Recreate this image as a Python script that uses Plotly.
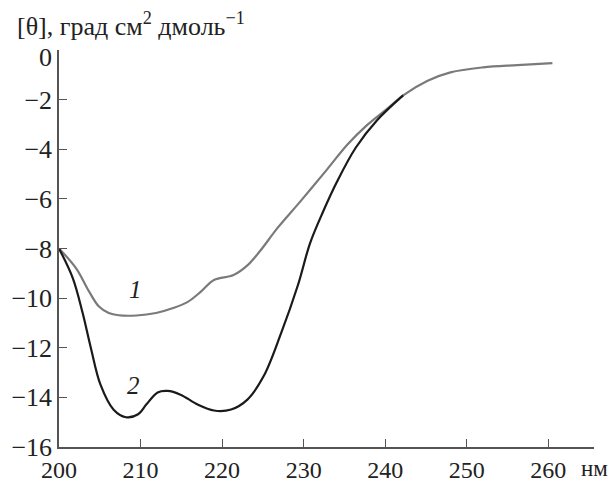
import plotly.graph_objects as go

# Curve 1 (grey)
x1 = [200, 202.1, 203.7, 204.9, 206.1, 207.3, 209.5, 211.9, 214, 215.8, 217.4, 219, 221.4, 223.1,
      224.7, 226.8, 229.6, 232.9, 235.4, 237.8, 240.3, 242.2, 245.2, 248, 252, 256.2, 260.5]
y1 = [-8.0, -8.8, -9.74, -10.34, -10.6, -10.69, -10.7, -10.6, -10.4, -10.15, -9.74, -9.27, -9.07, -8.68,
      -8.08, -7.17, -6.1, -4.8, -3.8, -3.02, -2.35, -1.83, -1.24, -0.9, -0.7, -0.61, -0.53]

# Curve 2 (black)
x2 = [200, 201.7, 202.9, 203.9, 205.1, 206.7, 208.2, 209.7, 210.7, 212.1, 213.3, 214.9, 217, 219, 221.1,
      223.1, 225.1, 227.2, 229.3, 230.8, 232.4, 234.1, 236.4, 239, 242.2]
y2 = [-8.0, -9.2, -10.6, -12.0, -13.5, -14.5, -14.8, -14.68, -14.29, -13.8, -13.74, -13.89, -14.29, -14.53, -14.49,
      -14.09, -13.14, -11.44, -9.47, -7.77, -6.5, -5.3, -3.93, -2.83, -1.83]

x_ticks = [200, 210, 220, 230, 240, 250, 260]
y_ticks = [0, -2, -4, -6, -8, -10, -12, -14, -16]
y_ticktext = ["" if v == 0 else "−" + str(abs(v)) for v in y_ticks]

FONT = "Liberation Serif"

fig = go.Figure()
fig.add_trace(go.Scatter(x=x1, y=y1, mode="lines", line=dict(color="#7a7a7a", width=2.2, shape="spline", smoothing=1),
                         showlegend=False, hoverinfo="skip"))
fig.add_trace(go.Scatter(x=x2, y=y2, mode="lines", line=dict(color="#1a1a1a", width=2.2, shape="spline", smoothing=1),
                         showlegend=False, hoverinfo="skip"))

fig.update_layout(
    width=613, height=485,
    margin=dict(l=59, r=19, t=50, b=38),
    paper_bgcolor="white", plot_bgcolor="white",
    font=dict(family=FONT, size=26, color="#222"),
    xaxis=dict(range=[200, 265.6], tickvals=x_ticks, ticks="inside", ticklen=8, tickcolor="#555",
               showline=True, linecolor="#555", linewidth=1.5, showgrid=False, zeroline=False,
               automargin=False,
               tickfont=dict(family=FONT, size=24, color="#222")),
    yaxis=dict(range=[-16, 0], tickvals=y_ticks, ticktext=y_ticktext, ticks="inside", ticklen=8, tickcolor="#555",
               showline=True, linecolor="#555", linewidth=1.5, showgrid=False, zeroline=False,
               automargin=False,
               tickfont=dict(family=FONT, size=26, color="#222")),
    annotations=[
        dict(text="[θ], град см<sup>2</sup> дмоль<sup>−1</sup>", xref="paper", yref="paper",
             x=-0.082, y=1.063, xanchor="left", yanchor="middle", showarrow=False,
             font=dict(family=FONT, size=26, color="#222")),
        dict(text="0", xref="paper", yref="y", x=-0.01, y=-0.3, xanchor="right", yanchor="middle",
             showarrow=False, font=dict(family=FONT, size=26, color="#222")),
        dict(text="нм", xref="paper", yref="paper", x=0.972, y=-0.055, xanchor="left", yanchor="middle",
             showarrow=False, font=dict(family=FONT, size=23, color="#222")),
        dict(text="<i>1</i>", x=209.4, y=-9.66, showarrow=False, font=dict(family=FONT, size=25, color="#222")),
        dict(text="<i>2</i>", x=209.1, y=-13.54, showarrow=False, font=dict(family=FONT, size=25, color="#222")),
    ],
)

fig.write_html("out.html", config={"displayModeBar": False},
               post_script="document.body.style.margin='0';document.body.style.overflow='hidden';")
